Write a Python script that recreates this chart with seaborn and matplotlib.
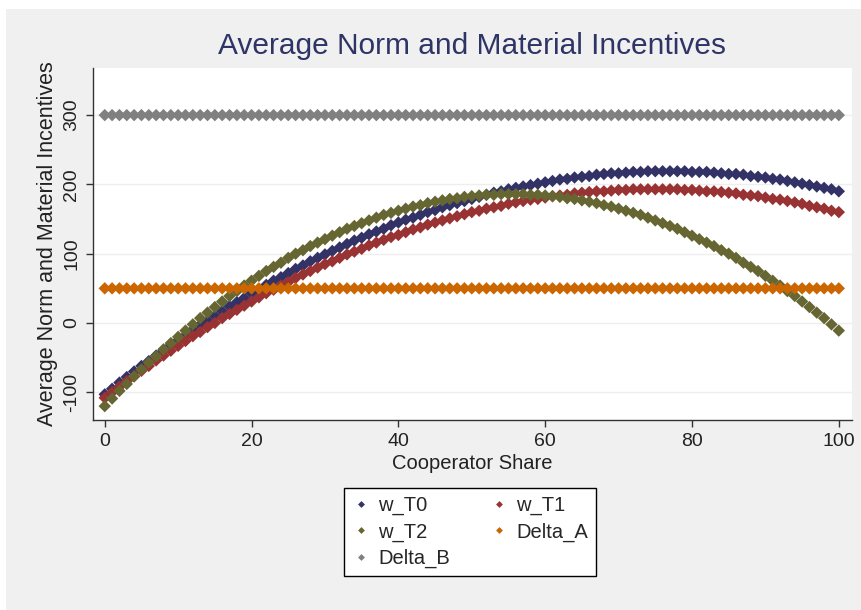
import numpy as np
import pandas as pd
import matplotlib
matplotlib.use("Agg")
import matplotlib.pyplot as plt
import seaborn as sns

# cooperator share 0..100
share = list(range(101))

w_T0 = [-103, -95, -86, -78, -70, -62, -55, -47, -40, -32,
        -25, -18, -10, -3, 3, 10, 17, 24, 30, 36,
        43, 49, 55, 61, 66, 72, 78, 83, 89, 94,
        99, 104, 109, 114, 119, 123, 128, 132, 136, 141,
        145, 149, 152, 156, 160, 163, 167, 170, 173, 176,
        179, 182, 185, 188, 190, 193, 195, 197, 199, 201,
        203, 205, 207, 208, 210, 211, 212, 214, 215, 216,
        216, 217, 218, 218, 219, 219, 219, 219, 219, 219,
        218, 218, 218, 217, 216, 215, 215, 214, 212, 211,
        210, 208, 207, 205, 203, 201, 199, 197, 195, 193,
        190]

w_T1 = [-108, -100, -92, -84, -77, -69, -62, -54, -47, -40,
        -33, -26, -19, -13, -6, 0, 7, 13, 19, 25,
        31, 37, 43, 48, 54, 59, 65, 70, 75, 80,
        85, 89, 94, 99, 103, 107, 112, 116, 120, 124,
        127, 131, 135, 138, 142, 145, 148, 151, 154, 157,
        160, 162, 165, 167, 169, 172, 174, 176, 178, 179,
        181, 183, 184, 185, 187, 188, 189, 190, 190, 191,
        192, 192, 193, 193, 193, 193, 193, 193, 193, 192,
        192, 191, 190, 190, 189, 188, 187, 185, 184, 183,
        181, 179, 178, 176, 174, 172, 169, 167, 165, 162,
        160]

w_T2 = [-120, -109, -98, -88, -77, -67, -57, -48, -38, -29,
        -20, -11, -2, 7, 15, 23, 31, 39, 46, 54,
        61, 68, 75, 81, 87, 94, 100, 105, 111, 116,
        121, 126, 131, 136, 140, 144, 148, 152, 156, 159,
        162, 165, 168, 170, 173, 175, 177, 179, 180, 182,
        183, 184, 185, 185, 186, 186, 186, 186, 185, 185,
        184, 183, 182, 180, 179, 177, 175, 173, 170, 168,
        165, 162, 159, 156, 152, 148, 144, 140, 136, 131,
        126, 121, 116, 111, 105, 100, 94, 87, 81, 75,
        68, 61, 54, 46, 39, 31, 23, 15, 7, -2,
        -11]

Delta_A = [50] * 101
Delta_B = [300] * 101

series = ["w_T0", "w_T1", "w_T2", "Delta_A", "Delta_B"]
colors = ["#323266", "#993333", "#666633", "#cc6600", "#808080"]

df = pd.DataFrame({"share": share, "w_T0": w_T0, "w_T1": w_T1,
                   "w_T2": w_T2, "Delta_A": Delta_A, "Delta_B": Delta_B})
long = df.melt(id_vars="share", var_name="series", value_name="value")

sns.set_style("white")
plt.rcParams["font.family"] = ["Liberation Sans", "DejaVu Sans"]

fig = plt.figure(figsize=(8.62, 6.10), dpi=100, facecolor="white")
# grey outer band like Stata graph region
fig.patches.append(plt.Rectangle((6 / 862, 0), 1, 1 - 9 / 610, transform=fig.transFigure,
                                 facecolor="#f0f0f0", edgecolor="none", zorder=-10))

ax = fig.add_axes([93 / 862, 190 / 610, 759 / 862, 352 / 610])
ax.set_facecolor("white")

sns.scatterplot(data=long, x="share", y="value", hue="series", hue_order=series,
                palette=colors, marker="D", s=40, linewidth=0, ax=ax, zorder=3)

ax.set_xlim(-1.6, 101.8)
ax.set_ylim(-140, 368)
ax.set_xticks([0, 20, 40, 60, 80, 100])
ax.set_yticks([-100, 0, 100, 200, 300])
ax.set_yticklabels(["-100", "0", "100", "200", "300"], rotation=90, va="center")
ax.yaxis.grid(True, color="#eeeeee", linewidth=1)
ax.set_axisbelow(True)

for side in ["top", "right"]:
    ax.spines[side].set_visible(False)
for side in ["left", "bottom"]:
    ax.spines[side].set_color("#333333")
    ax.spines[side].set_linewidth(1)

ax.tick_params(axis="both", direction="out", length=5, width=1, color="#333333",
               labelsize=14, labelcolor="#222222", left=True, bottom=True, pad=4)
ax.set_xlabel("Cooperator Share", fontsize=14.5, color="#222222", labelpad=3)
ax.set_ylabel("Average Norm and Material Incentives", fontsize=15.5, color="#222222", labelpad=4)

fig.text(0.547, 1 - 46 / 610, "Average Norm and Material Incentives", ha="center",
         va="center", fontsize=21.5, color="#2e3466")

handles, labels = ax.get_legend_handles_labels()
ax.get_legend().remove()
order = [0, 2, 4, 1, 3]
leg = fig.legend([handles[i] for i in order], [labels[i] for i in order],
                 ncol=2, loc="center", bbox_to_anchor=(470 / 862, 1 - 532 / 610),
                 frameon=True, fancybox=False, edgecolor="black", facecolor="white",
                 framealpha=1, fontsize=14.5, markerscale=0.55, handletextpad=0.4,
                 handlelength=0.9, columnspacing=2.0, labelspacing=0.35, borderpad=0.4)
leg.get_frame().set_linewidth(1)

fig.savefig("out.png", dpi=100, facecolor=fig.get_facecolor())
